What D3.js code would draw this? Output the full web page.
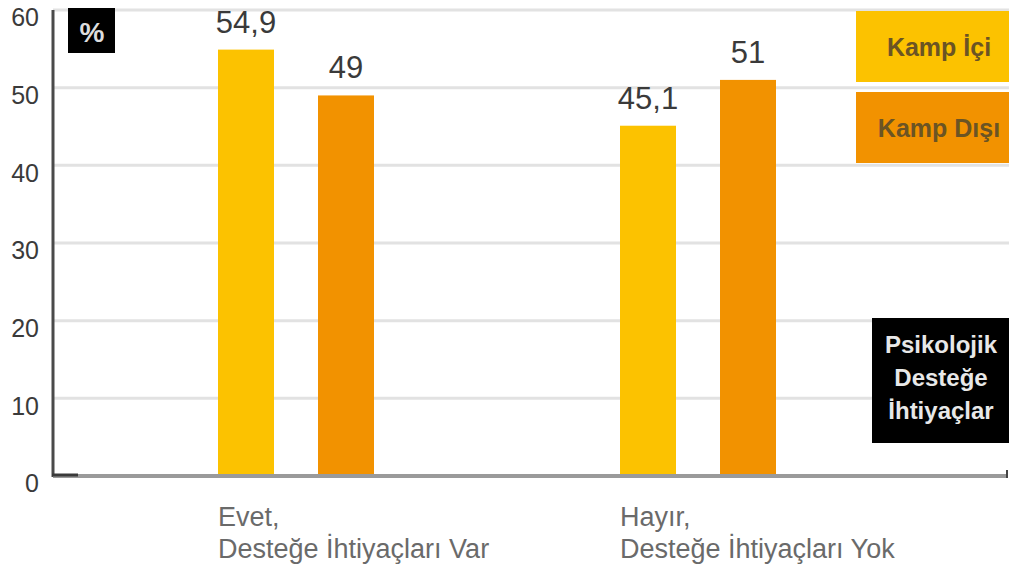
<!DOCTYPE html>
<html><head><meta charset="utf-8">
<script src="https://cdn.jsdelivr.net/npm/d3@7"></script>
<style>
body{margin:0;background:#fff;}
svg{display:block;}
text{font-family:"Liberation Sans",Arial,sans-serif;}
</style></head>
<body>
<svg id="c" width="1009" height="572"></svg>
<script>
const categories = [["Evet,", "Desteğe İhtiyaçları Var"], ["Hayır,", "Desteğe İhtiyaçları Yok"]];
const seriesNames = ["Kamp İçi", "Kamp Dışı"];
const kampIci = [54.9, 45.1];
const kampDisi = [49, 51];
const valueLabels = [["54,9", "45,1"], ["49", "51"]];
const yTicks = [0, 10, 20, 30, 40, 50, 60];
const colors = ["#FCC200", "#F29200"];

(function () {
const svg = d3.select("#c");
const mLeft = 53, mRight = 1009, mTop = 10, mBottom = 476;
const y = d3.scaleLinear().domain([0, 60]).range([mBottom, mTop]);
const x0 = d3.scaleBand().domain([0, 1]).range([95, 899]).paddingInner(0).paddingOuter(0);
const x1 = d3.scaleBand().domain([0, 1]).range([0, x0.bandwidth()]).paddingInner(0.44).paddingOuter(1.23);

// gridlines
svg.append("g").selectAll("line").data(yTicks.filter(d => d > 0)).join("line")
  .attr("x1", mLeft).attr("x2", mRight)
  .attr("y1", d => y(d)).attr("y2", d => y(d))
  .attr("stroke", "#e2e2e2").attr("stroke-width", 3);

// y axis
const yAxis = svg.append("g").attr("transform", `translate(${mLeft},0)`)
  .call(d3.axisLeft(y).tickValues(yTicks).tickSize(0).tickPadding(14));
yAxis.select(".domain").remove();
yAxis.selectAll("text").attr("font-size", 25).attr("fill", "#3a3a3a").attr("dy", "0.35em")
  .attr("font-family", "'Liberation Sans',Arial,sans-serif").attr("y", 7);
svg.append("line").attr("x1", mLeft).attr("x2", mLeft).attr("y1", y(60)).attr("y2", mBottom + 1)
  .attr("stroke", "#4a4a4a").attr("stroke-width", 3);

// bars
const series = [kampIci, kampDisi];
const g = svg.append("g");
series.forEach((vals, s) => {
  g.selectAll(null).data(vals).join("rect")
    .attr("x", (d, i) => x0(i) + x1(s))
    .attr("width", x1.bandwidth())
    .attr("y", d => y(d))
    .attr("height", d => y(0) - y(d))
    .attr("fill", colors[s]);
  g.selectAll(null).data(vals).join("text")
    .attr("x", (d, i) => x0(i) + x1(s) + x1.bandwidth() / 2)
    .attr("y", d => y(d) - 17)
    .attr("text-anchor", "middle")
    .attr("font-size", 31).attr("fill", "#3a3a3a")
    .text((d, i) => valueLabels[s][i]);
});

// baseline
svg.append("line").attr("x1", mLeft).attr("x2", 1006).attr("y1", mBottom).attr("y2", mBottom)
  .attr("stroke", "#9a9a9a").attr("stroke-width", 4);
svg.append("line").attr("x1", mLeft - 1).attr("x2", mLeft + 25).attr("y1", mBottom - 1).attr("y2", mBottom - 1)
  .attr("stroke", "#3a3a3a").attr("stroke-width", 3);
svg.append("line").attr("x1", 1007).attr("x2", 1007).attr("y1", mBottom - 6).attr("y2", mBottom + 2)
  .attr("stroke", "#444").attr("stroke-width", 2);

// category labels
categories.forEach((c, i) => {
  const t = svg.append("text").attr("x", x0(i) + x1(0)).attr("y", 526)
    .attr("font-size", 27).attr("fill", "#6a6a6a");
  t.append("tspan").attr("x", x0(i) + x1(0)).text(c[0]);
  t.append("tspan").attr("x", x0(i) + x1(0)).attr("dy", 32).text(c[1]);
});

// % box
svg.append("rect").attr("x", 68).attr("y", 8).attr("width", 47).attr("height", 45).attr("fill", "#000");
svg.append("text").attr("x", 92).attr("y", 42).attr("text-anchor", "middle")
  .attr("font-size", 28).attr("font-weight", "bold").attr("fill", "#ddd").text("%");

// legend
const legY = [11, 92];
seriesNames.forEach((n, i) => {
  svg.append("rect").attr("x", 856).attr("y", legY[i]).attr("width", 153).attr("height", 71).attr("fill", colors[i]);
  svg.append("text").attr("x", 939).attr("y", legY[i] + 45).attr("text-anchor", "middle")
    .attr("font-size", 25).attr("font-weight", "bold").attr("fill", "#6b5424").text(n);
});

// note box
svg.append("rect").attr("x", 872).attr("y", 318).attr("width", 137).attr("height", 125).attr("fill", "#000");
const note = ["Psikolojik", "Desteğe", "İhtiyaçlar"];
note.forEach((l, i) => {
  svg.append("text").attr("x", 941).attr("y", 353 + i * 33).attr("text-anchor", "middle")
    .attr("font-size", 24).attr("font-weight", "bold").attr("fill", "#e8e8e8").text(l);
});
})();
</script>
</body></html>
